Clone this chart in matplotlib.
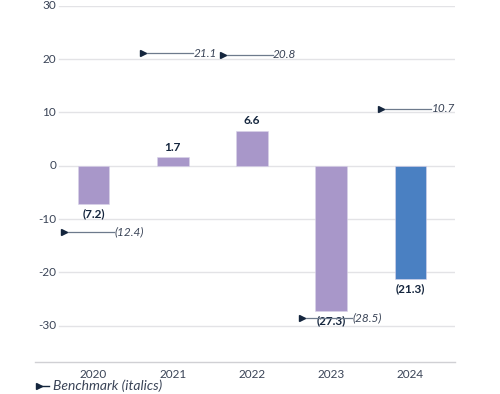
import matplotlib.pyplot as plt

years = ["2020", "2021", "2022", "2023", "2024"]
values = [-7.2, 1.7, 6.6, -27.3, -21.3]
benchmark = [-12.4, 21.1, 20.8, -28.5, 10.7]
bar_colors = ["#a897c9", "#a897c9", "#a897c9", "#a897c9", "#4a80c2"]
y_ticks = [-30, -20, -10, 0, 10, 20, 30]

NAVY = "#14253d"
TEXT = "#3a4457"
BENCH_LINE = "#6d7a8c"


def fmt(v):
    return f"({abs(v):.1f})" if v < 0 else f"{v:.1f}"


plt.rcParams["font.family"] = ["Lato", "DejaVu Sans"]

fig = plt.figure(figsize=(5.0, 3.94), dpi=100)
ax = fig.add_axes([0.07, 0.0812, 0.84, 0.904])

x = list(range(len(years)))
ax.set_xlim(-0.738, 4.561)
ax.set_ylim(-36.8, 30)

# gridlines start a bit to the right of the axis origin
for t in y_ticks:
    ax.axhline(t, xmin=0.057, xmax=1, color="#e3e3e6", lw=1.0, zorder=0)
    ax.text(-0.47, t, str(t), ha="right", va="center", fontsize=8.5, color=TEXT)

ax.bar(x, values, width=0.40, color=bar_colors, edgecolor="#d9d3ea", lw=0.4, zorder=2)

for xi, v in zip(x, values):
    if v >= 0:
        ax.annotate(fmt(v), (xi, v), xytext=(0, 3), textcoords="offset points",
                    ha="center", va="bottom", fontsize=8.5, fontweight="bold", color=NAVY)
    else:
        ax.annotate(fmt(v), (xi, v), xytext=(0, -3), textcoords="offset points",
                    ha="center", va="top", fontsize=8.5, fontweight="bold", color=NAVY)

# benchmark markers: triangle, thin line, italic value
for xi, b in zip(x, benchmark):
    ax.plot([xi - 0.37, xi + 0.26], [b, b], color=BENCH_LINE, lw=0.9, zorder=3)
    ax.plot(xi - 0.37, b, marker=">", ms=5, color=NAVY, zorder=4, lw=0)
    ax.text(xi + 0.265, b, fmt(b), ha="left", va="center", fontsize=8.5,
            style="italic", color=TEXT, zorder=4)

ax.set_xticks(x)
ax.set_xticklabels(years, fontsize=8.5, color=TEXT)
ax.tick_params(axis="x", length=0, pad=5)
ax.set_yticks([])

for s in ["top", "right", "left"]:
    ax.spines[s].set_visible(False)
ax.spines["bottom"].set_color("#d0d0d4")
ax.spines["bottom"].set_linewidth(1.0)

# legend row at bottom
fig.lines.append(plt.Line2D([0.075, 0.097], [0.021, 0.021], color=NAVY, lw=1.0,
                            transform=fig.transFigure))
fig.lines.append(plt.Line2D([0.078], [0.021], marker=">", ms=5, color=NAVY, lw=0,
                            transform=fig.transFigure))
fig.text(0.106, 0.021, "Benchmark (italics)", ha="left", va="center", fontsize=10,
         style="italic", color=TEXT)

fig.savefig("out.png", dpi=100)
